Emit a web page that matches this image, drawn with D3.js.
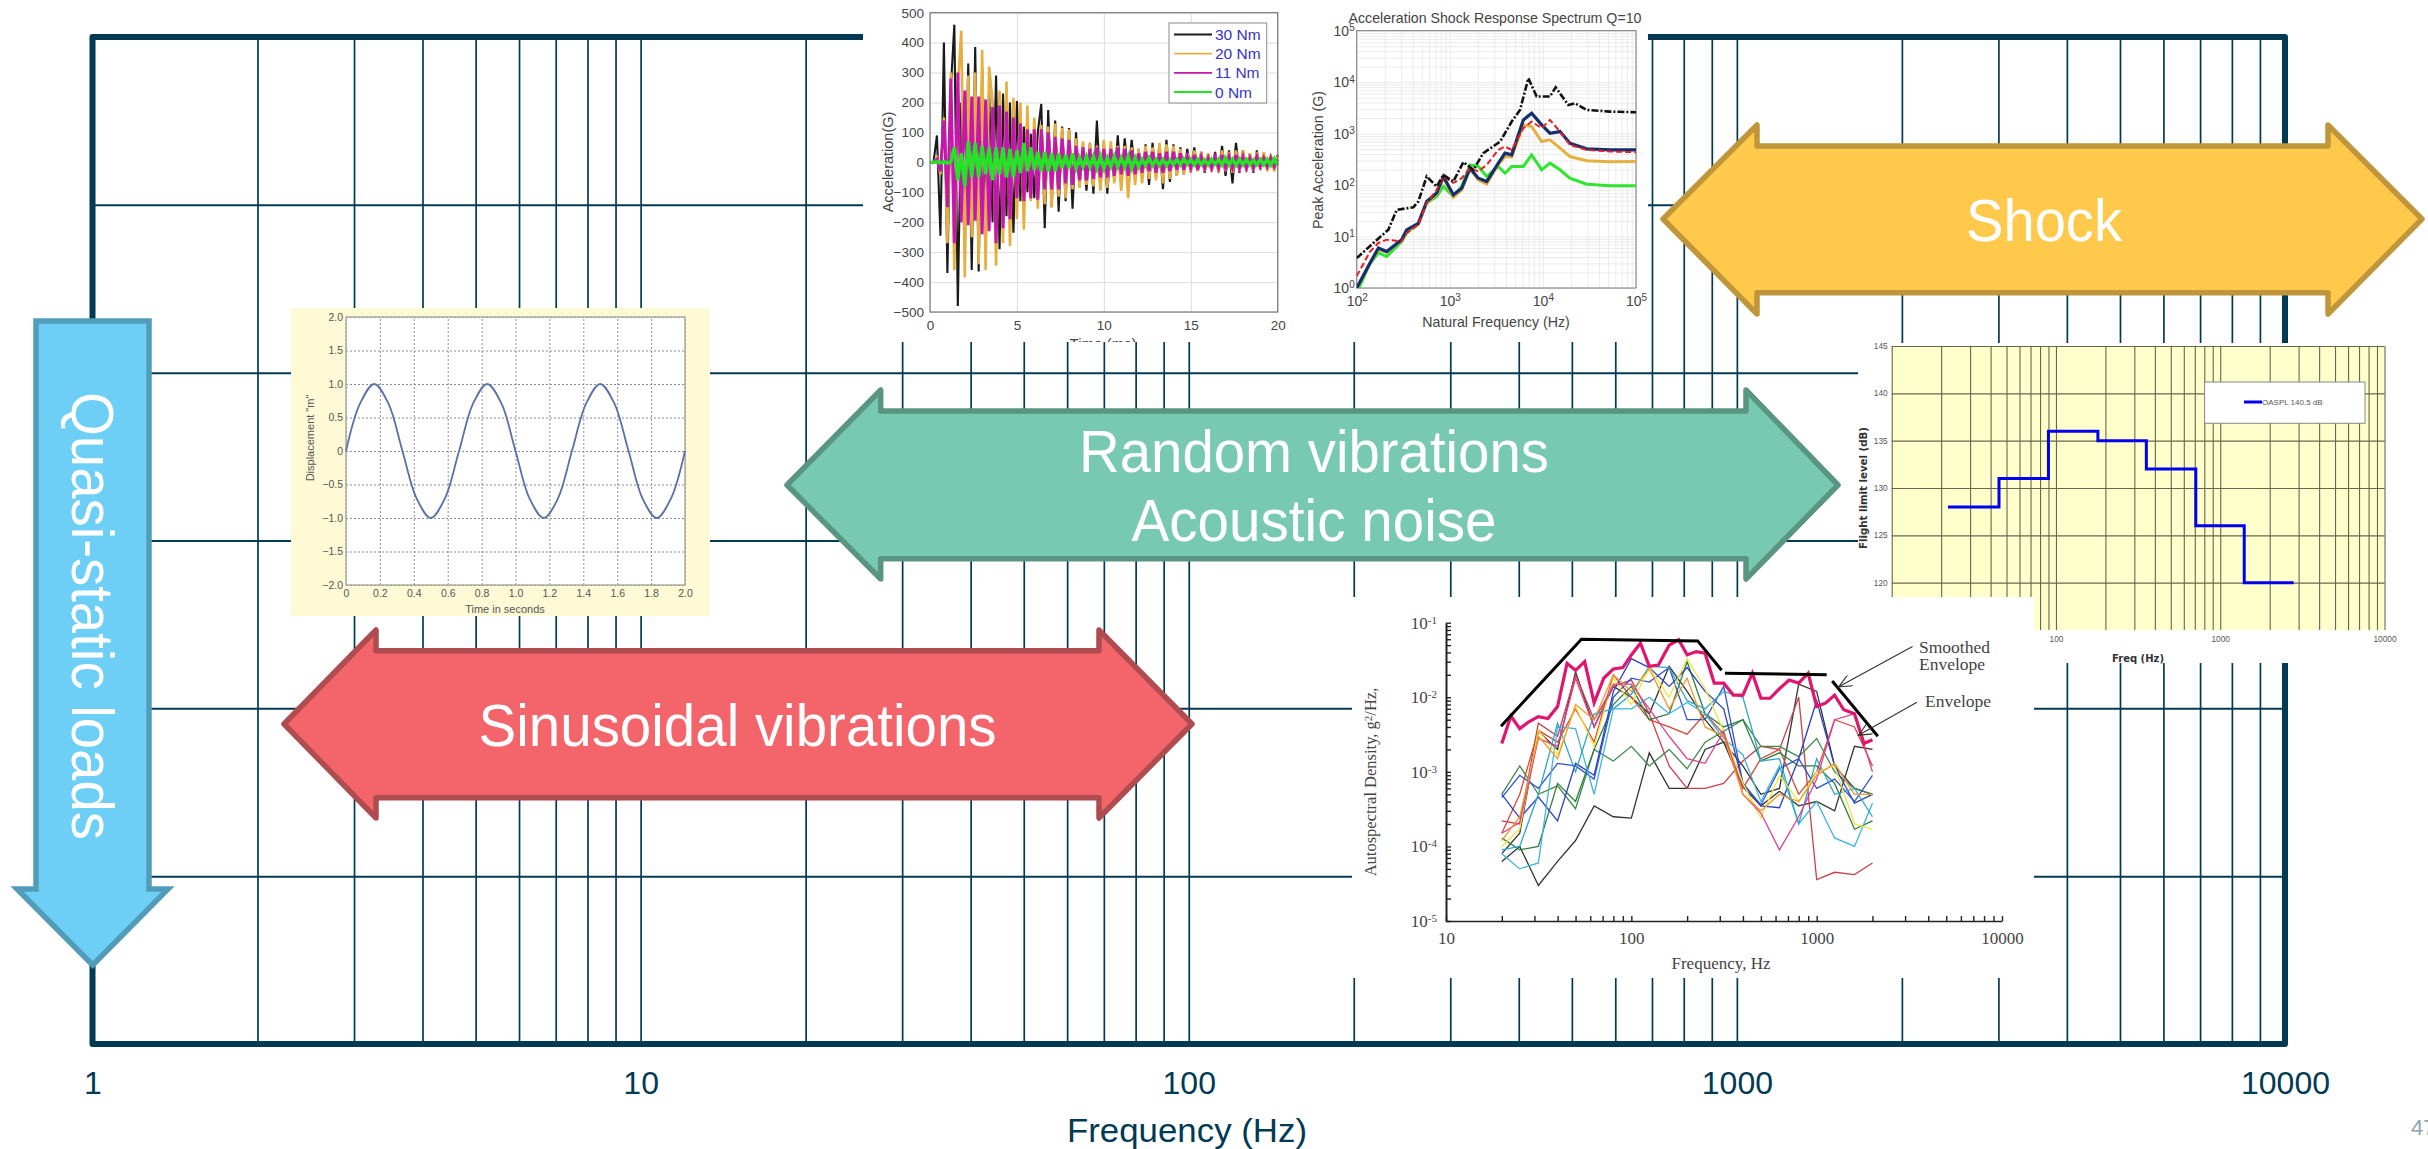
<!DOCTYPE html>
<html>
<head>
<meta charset="utf-8">
<script src="https://cdn.jsdelivr.net/npm/d3@7/dist/d3.min.js"></script>
<style>
  html, body { margin: 0; padding: 0; background: #fff; }
  svg { display: block; }
  text { font-family: "Liberation Sans", Arial, sans-serif; }
</style>
</head>
<body>
<div id="chart"></div>
<script>
// main frequency map
const freqRange = [1, 10000];
const freqLabels = [1, 10, 100, 1000, 10000];
const levelTicks = [0, 1, 2, 3, 4, 5, 6];

// shock time history, one sample every 0.2 ms
const shockNames = ["30 Nm", "20 Nm", "11 Nm", "0 Nm"];
const shockColors = ["#1a1a1a", "#e6b040", "#c616b0", "#1fe620"];
const shock30 = [0,0,90,-245,400,-370,250,460,-480,200,-210,330,-360,385,-365,310,-150,240,-200,290,-290,230,-180,200,-235,205,-130,120,-100,95,-120,100,195,-220,175,-150,140,-165,120,-130,115,-155,100,-80,60,-95,65,-105,140,-90,60,-105,55,-60,90,-70,80,-45,75,-40,45,-50,60,-75,65,-50,60,-90,75,-65,60,-45,50,-40,45,-30,50,-25,35,-35,25,-30,35,-30,55,-45,40,-70,65,-35,40,-30,30,-35,40,-25,25,-25,20,-20,25];
const shock20 = [0,0,15,-40,150,-270,300,-360,250,440,-385,290,-250,300,-340,375,-360,320,200,-345,240,-270,270,-280,215,-190,200,-225,190,-130,150,-155,125,-140,120,-150,130,-115,115,-120,110,-90,80,-85,70,-75,65,-80,55,-95,75,-85,70,-70,55,-95,55,-120,50,-75,45,-70,55,-55,50,-60,65,-70,60,-55,55,-45,45,-40,30,-35,40,-30,35,-30,30,-30,25,-35,40,-30,35,-35,40,-30,40,-30,30,-30,35,-25,35,-30,25,-30,20];
const shock11 = [0,0,10,-30,140,-150,280,-270,300,-200,240,-210,220,-195,220,-240,210,-230,185,-270,190,-220,170,-190,150,-120,130,-130,110,-120,110,-125,110,-90,100,-90,85,-90,80,-70,75,-75,55,-60,50,-60,45,-55,50,-50,45,-50,45,-45,50,-40,45,-45,40,-40,30,-35,35,-30,35,-35,30,-35,35,-30,35,-25,30,-25,20,-20,25,-25,20,-20,15,-20,20,-20,25,-20,20,-20,25,-20,20,-20,15,-20,20,-15,15,-15,15,-15,10];
const shock0 = [0,0,2,-2,3,-3,2,50,-60,30,-80,70,-50,65,-50,55,-40,50,-60,50,-40,50,-50,45,-50,40,-35,65,-30,50,-25,35,-30,35,-30,30,-30,30,-20,25,-20,30,-20,15,-15,20,-15,20,-20,20,-20,15,-15,20,-15,15,-15,20,-20,15,-15,10,-10,15,-10,10,-10,10,-10,8,-8,10,-8,12,-6,10,-8,10,-8,8,-8,10,-6,10,-8,15,-8,10,-10,10,-8,10,-8,8,-8,10,-8,10,-10,12,-10];
const shockSeries = [shock30, shock20, shock11, shock0];
const shockWidths = [2.1, 2.6, 2.9, 3.4];
const shockXTicks = [0, 5, 10, 15, 20];
const shockYTicks = [-500, -400, -300, -200, -100, 0, 100, 200, 300, 400, 500];

// shock response spectrum
const srsEnvFreq = [100,151,219,269,406,459,565,722,853,1091,1400,1790,2290,3470,4625,5675,6980,8570,11900,13700,18750,22100,29500,52500,100000];
const srsEnvG = [3.8,7.5,13.6,33,37,48,147,94,158,117,279,198,417,700,1714,2884,11900,5248,5248,7943,3607,3890,2884,2680,2600];
const srsFreq = [100,139,171,210,304,344,459,565,723,853,1091,1342,1650,2027,2490,3321,3917,4624,6166,7570,9700,11900,15270,19500,29500,52600,100000];
const srsGreen = [0.8,3,4.8,4.1,8,11.7,18,45,60,94,60,94,247,230,147,230,170,230,230,387,198,267,198,136,104,97,97];
const srsOrange = [1,3,5.6,5,8.4,13,17,46,66,140,58,80,205,125,105,250,360,350,1479,1371,702,755,521,359,296,283,287];
const srsNavy = [1,3.05,6,5.1,8.7,13.5,18,48,70,147,65,87,213,136,117,267,417,387,1849,2489,1479,1018,1096,651,506,483,483];
const srsRed = [1.7,5.1,7.5,8.7,8,11.7,17,45,81,147,110,136,213,184,247,483,561,483,1273,1714,1273,1849,1096,604,483,449,436];
const srsExponents = [0, 1, 2, 3, 4, 5];

// sinusoidal displacement
const sineTime = [0,0.083,0.167,0.25,0.333,0.417,0.5,0.583,0.667,0.75,0.833,0.917,1,1.083,1.167,1.25,1.333,1.417,1.5,1.583,1.667,1.75,1.833,1.917,2];
const sineDisp = [0,0.71,1,0.71,0,-0.71,-1,-0.71,0,0.71,1,0.71,0,-0.71,-1,-0.71,0,0.71,1,0.71,0,-0.71,-1,-0.71,0];
const sineXTicks = [0,0.2,0.4,0.6,0.8,1,1.2,1.4,1.6,1.8,2];
const sineYTicks = [-2,-1.5,-1,-0.5,0,0.5,1,1.5,2];

// acoustic flight limit
const acousticFreq = [22,45,90,180,355,710,1400,2800];
const acousticLevel = [128,131,136,135,132,126,120,120];
const acousticYTicks = [120,125,130,135,140,145];
const acousticXLabels = [100,1000,10000];

// random vibration spectra
const psdFreq = [20,25,31.5,40,50,63,80,100,125,160,200,250,315,400,500,630,800,1000,1250,1600,2000];
const psdGrayA = [6.3e-5,1e-4,3e-5,6.3e-5,1.2e-4,3.5e-4,2.5e-4,2.4e-4,1.8e-3,6e-4,6e-4,2e-3,2.5e-3,6.3e-4,3.5e-4,5.5e-4,3.5e-4,4e-4,3e-4,2.2e-3,2e-3];
const psdGrayB = [8e-5,1.5e-4,3.5e-3,2e-3,2.2e-2,4e-3,1.4e-2,1e-2,6e-3,2.6e-2,1.2e-2,5e-3,2.5e-3,1.2e-3,5e-4,6e-4,1.5e-2,1.2e-2,1.2e-3,6e-4,5e-4];
const psdRedA = [2.2e-4,2e-4,4.5e-3,3e-3,2e-2,5e-3,1.4e-2,1.7e-2,6e-3,1.2e-3,6e-4,6e-4,7e-4,1.4e-3,2.2e-3,2e-3,1e-2,3.6e-5,4.5e-5,4.2e-5,6e-5];
const psdRedB = [1.5e-4,5e-4,3.6e-3,2.5e-3,7e-3,2.5e-3,2e-2,1e-2,5e-3,4e-3,3.2e-3,6e-3,3.2e-3,6e-4,1.5e-3,2e-3,5e-4,1e-3,5e-3,4e-3,1.2e-3];
const psdGreenA = [5e-4,1.2e-3,5e-4,6.5e-4,3.2e-4,2e-3,1.4e-3,2.2e-3,1.2e-3,2e-3,1.1e-3,2.5e-3,3.5e-3,5e-3,2.2e-3,2.2e-3,1.6e-3,2.8e-3,1e-3,6e-4,5e-4];
const psdGreenB = [1.3e-4,9e-5,1e-4,7e-4,4e-4,2e-3,8e-3,1.4e-2,5e-3,6e-3,3e-2,6e-3,4e-3,5e-3,1.4e-3,1.8e-3,1.2e-3,1.2e-3,7e-4,1.7e-4,2.2e-4];
const psdBlueA = [5e-4,2.4e-4,4.6e-4,2.2e-4,1.3e-3,9e-4,1.2e-2,3.3e-2,2.5e-2,1.4e-2,2.5e-2,1.2e-2,7e-3,7e-4,3.5e-4,3.3e-4,1.5e-3,9e-3,1.2e-3,3.8e-4,5e-4];
const psdBlueB = [4.5e-4,9e-4,6e-4,1.3e-3,1.2e-3,8e-4,1e-2,1.8e-2,1.6e-2,2.5e-2,5e-3,5e-3,1.4e-2,7e-4,3.6e-4,1.1e-3,1.5e-3,6e-4,8e-4,4e-4,9e-4];
const psdCyanA = [8e-5,5e-5,6e-5,4e-3,3.8e-3,5e-4,7e-3,7e-3,1e-2,6e-3,8.5e-3,6e-3,2.8e-3,1.7e-3,4e-4,1.2e-3,2e-4,4e-4,1.3e-4,1e-4,3.8e-4];
const psdCyanB = [9e-5,1e-4,5e-4,4.5e-3,1e-3,6e-3,7e-3,1.1e-2,2.6e-2,2.5e-2,9e-3,7e-3,1.2e-2,1e-2,1.4e-3,1.5e-3,2e-4,1.5e-3,5e-4,6e-4,2.5e-4];
const psdYellow = [1e-4,1.7e-4,3.6e-3,1.7e-3,7.5e-3,2.2e-3,1.8e-2,8e-3,2.5e-2,1e-2,3.3e-2,1.3e-2,3.5e-3,7e-4,2.4e-4,9e-4,4e-4,1e-3,1.2e-3,2e-4,1.7e-4];
const psdPink = [1.5e-4,2.1e-4,2.8e-3,2.2e-3,1.8e-2,4e-3,1.5e-2,1.5e-2,7e-3,3e-3,1.5e-3,1.3e-3,3.5e-3,5e-4,2.8e-4,9e-5,2.5e-4,8e-4,5e-3,6e-3,1e-3];
const psdOrange = [1.2e-4,2.5e-4,3e-3,1.5e-3,8e-3,5e-3,2e-2,1.2e-2,2.4e-2,7e-3,1.8e-2,4e-3,3e-3,5e-4,3e-4,5e-4,4e-4,9e-4,1.3e-3,5e-4,5e-4];
const psdThin = [psdGrayA, psdGrayB, psdRedA, psdRedB, psdGreenA, psdGreenB, psdBlueA, psdBlueB, psdCyanA, psdCyanB, psdYellow, psdPink, psdOrange];
const psdThinColors = ["#333","#333","#c9404a","#d9483c","#3d8b4a","#2f7d3f","#2b3fc4","#3050d0","#3fb4dc","#2ca8c8","#f2e53a","#e0408f","#ee9a2e"];
const psdSmoothFreq = [20,22.4,25,28,31.5,35.5,40,45,50,56,63,71,80,90,100,112,125,140,160,180,200,224,250,280,315,355,400,450,500,560,630,710,800,900,1000,1120,1250,1400,1600,1800,2000];
const psdSmooth = [2.4e-3,5.6e-3,3.8e-3,4.7e-3,5.5e-3,5.2e-3,7.5e-3,2.85e-2,2.3e-2,3e-2,8.4e-3,1.8e-2,2.4e-2,2.5e-2,3.7e-2,5.3e-2,2.6e-2,2.7e-2,5e-2,5.9e-2,3.7e-2,4.1e-2,3.9e-2,1.55e-2,1.55e-2,1.07e-2,1.07e-2,2.1e-2,9.7e-3,9.7e-3,1.3e-2,1.7e-2,1.55e-2,2.1e-2,7.5e-3,8.4e-3,1.07e-2,6.8e-3,6e-3,2.4e-3,2.7e-3];
const psdEnvelopeA = [[19.8,4.1e-3],[53.8,6e-2],[228,5.7e-2],[307,2.3e-2]];
const psdEnvelopeB = [[320,2.1e-2],[1133,2e-2]];
const psdEnvelopeC = [[1213,1.65e-2],[2138,3e-3]];
const psdPointerA = [[3290,4.8e-2],[1315,1.38e-2]];
const psdPointerB = [[3475,8.6e-3],[1680,3.1e-3]];
const psdXLabels = [10,100,1000,10000];
const psdYExponents = [-5,-4,-3,-2,-1];

const width = 2428, height = 1149;
const navy = "#023a53";

const svg = d3.select("#chart").append("svg")
  .attr("width", width)
  .attr("height", height);

svg.append("rect").attr("width", width).attr("height", height).attr("fill", "#fff");

const defs = svg.append("defs");
defs.append("marker").attr("id", "openHead")
  .attr("viewBox", "0 0 12 10").attr("refX", 11).attr("refY", 5)
  .attr("markerWidth", 16).attr("markerHeight", 12).attr("markerUnits", "userSpaceOnUse")
  .attr("orient", "auto")
  .append("path").attr("d", "M0,0L11,5L0,10").attr("fill", "none").attr("stroke", "#333").attr("stroke-width", 1);

// ---- main log grid
const mainX = d3.scaleLog().domain(freqRange).range([92.5, 2285]);
const mainY = d3.scaleLinear().domain([0, 6]).range([1044, 37]);

const mainXAxis = d3.axisBottom(mainX)
  .tickSize(-(1044 - 37))
  .tickSizeOuter(0)
  .tickPadding(27)
  .tickFormat(d => freqLabels.includes(d) ? d : "");
const mainXG = svg.append("g").attr("transform", "translate(0,1044)").call(mainXAxis);
mainXG.select(".domain").remove();
mainXG.selectAll("line").attr("stroke", navy).attr("stroke-width", 1.7);
mainXG.selectAll("text").attr("fill", navy).attr("font-size", 32);

const mainYG = svg.append("g").attr("transform", "translate(92.5,0)")
  .call(d3.axisLeft(mainY).tickValues(levelTicks).tickSize(-(2285 - 92.5)).tickFormat(""));
mainYG.select(".domain").remove();
mainYG.selectAll("line").attr("stroke", navy).attr("stroke-width", 2);

svg.append("rect")
  .attr("x", 92.5).attr("y", 37)
  .attr("width", 2285 - 92.5).attr("height", 1044 - 37)
  .attr("fill", "none").attr("stroke", navy).attr("stroke-width", 6).attr("stroke-linejoin", "round");

svg.append("text").attr("x", 1187).attr("y", 1142).attr("text-anchor", "middle")
  .attr("fill", navy).attr("font-size", 34)
  .attr("textLength", 240).attr("lengthAdjust", "spacingAndGlyphs").text("Frequency (Hz)");
svg.append("text").attr("x", 2411).attr("y", 1135)
  .attr("fill", "#8da6b6").attr("font-size", 22).text("47");

// ---- helpers for the pasted plots
const isDecade = d => Math.abs(Math.log10(d) - Math.round(Math.log10(d))) < 1e-6;
function tidy(g, color, size, family) {
  g.selectAll("text").attr("fill", color).attr("font-size", size);
  if (family) g.selectAll("text").style("font-family", family);
}
function powerLabel(sel, exponent, size) {
  sel.each(function (d) {
    const t = d3.select(this).text(null);
    t.append("tspan").text("10");
    t.append("tspan").attr("dy", "-0.45em").attr("font-size", size).text(exponent(d));
  });
}

// ---- time history and SRS share one white sheet
const topClip = defs.append("clipPath").attr("id", "topClip");
topClip.append("rect").attr("x", 863).attr("y", 0).attr("width", 785).attr("height", 342);
const sheet = svg.append("g").attr("clip-path", "url(#topClip)");
sheet.append("rect").attr("x", 863).attr("y", 0).attr("width", 785).attr("height", 342).attr("fill", "#fff");

const timeX = d3.scaleLinear().domain([0, 20]).range([930, 1277.7]);
const accelY = d3.scaleLinear().domain([-500, 500]).range([312, 12.7]);
const sampleTime = d3.range(0, 20.1, 0.2);

const timeG = sheet.append("g").attr("transform", "translate(0,312)")
  .call(d3.axisBottom(timeX).tickValues(shockXTicks).tickSize(-(312 - 12.7)).tickPadding(8));
timeG.select(".domain").remove();
timeG.selectAll("line").attr("stroke", "#dcdcdc").attr("stroke-width", 1);
tidy(timeG, "#444", 13.5);

const accelG = sheet.append("g").attr("transform", "translate(930,0)")
  .call(d3.axisLeft(accelY).tickValues(shockYTicks).tickSize(-(1277.7 - 930)).tickPadding(6));
accelG.select(".domain").remove();
accelG.selectAll("line").attr("stroke", "#dcdcdc").attr("stroke-width", 1);
tidy(accelG, "#444", 13.5);

const shockLine = d3.line().x((d, i) => timeX(sampleTime[i])).y(d => accelY(d));
sheet.selectAll(".shock").data(shockSeries).join("path")
  .attr("class", "shock")
  .attr("d", shockLine)
  .attr("fill", "none")
  .attr("stroke", (d, i) => shockColors[i])
  .attr("stroke-width", (d, i) => shockWidths[i]);

sheet.append("rect").attr("x", 930).attr("y", 12.7).attr("width", 1277.7 - 930).attr("height", 312 - 12.7)
  .attr("fill", "none").attr("stroke", "#7a7a7a").attr("stroke-width", 1.2);

sheet.append("text").attr("x", 1103).attr("y", 349).attr("text-anchor", "middle")
  .attr("fill", "#444").attr("font-size", 15).text("Time (ms)");
sheet.append("text").attr("transform", "translate(893,162) rotate(-90)").attr("text-anchor", "middle")
  .attr("fill", "#444").attr("font-size", 14.5).text("Acceleration(G)");

const legendY = d3.scalePoint().domain(shockNames).range([34.5, 92]);
sheet.append("rect").attr("x", 1169).attr("y", 23).attr("width", 97.7).attr("height", 80)
  .attr("fill", "#fff").attr("stroke", "#8a8a8a").attr("stroke-width", 1);
shockNames.forEach((name, i) => {
  sheet.append("line").attr("x1", 1174).attr("x2", 1212).attr("y1", legendY(name)).attr("y2", legendY(name))
    .attr("stroke", shockColors[i]).attr("stroke-width", 1.8);
  sheet.append("text").attr("x", 1215).attr("y", legendY(name) + 5.5)
    .attr("fill", "#3434c4").attr("font-size", 15.5).text(name);
});

const srsX = d3.scaleLog().domain([1e2, 1e5]).range([1356.7, 1636]);
const srsY = d3.scaleLog().domain([1, 1e5]).range([288, 30.7]);
const srsClip = defs.append("clipPath").attr("id", "srsClip");
srsClip.append("rect").attr("x", 1356.7).attr("y", 30.7).attr("width", 279.3).attr("height", 257.3);

const srsXG = sheet.append("g").attr("transform", "translate(0,288)")
  .call(d3.axisBottom(srsX).tickSize(-(288 - 30.7)).tickPadding(8).tickFormat(d => isDecade(d) ? "10" : ""));
srsXG.select(".domain").remove();
srsXG.selectAll("line").attr("stroke", "#e4e4e4").attr("stroke-width", 0.7);
tidy(srsXG, "#444", 14);
srsXG.selectAll("text").filter(isDecade)
  .call(powerLabel, d => Math.round(Math.log10(d)), 10);

const srsYG = sheet.append("g").attr("transform", "translate(1356.7,0)")
  .call(d3.axisLeft(srsY).tickSize(-(1636 - 1356.7)).tickPadding(2).tickFormat(d => isDecade(d) && srsExponents.includes(Math.round(Math.log10(d))) ? "10" : ""));
srsYG.select(".domain").remove();
srsYG.selectAll("line").attr("stroke", "#e4e4e4").attr("stroke-width", 0.7);
tidy(srsYG, "#444", 14);
srsYG.selectAll("text").filter(isDecade)
  .call(powerLabel, d => Math.round(Math.log10(d)), 10);

sheet.append("rect").attr("x", 1356.7).attr("y", 30.7).attr("width", 279.3).attr("height", 257.3)
  .attr("fill", "none").attr("stroke", "#777").attr("stroke-width", 1);

const srsPlot = sheet.append("g").attr("clip-path", "url(#srsClip)");
const srsLine = d3.line().x(d => srsX(d[0])).y(d => srsY(d[1]));
const srsPairs = ys => ys.map((g, i) => [srsFreq[i], g]);
srsPlot.append("path").attr("d", srsLine(srsPairs(srsGreen))).attr("fill", "none").attr("stroke", "#2de62d").attr("stroke-width", 3);
srsPlot.append("path").attr("d", srsLine(srsPairs(srsOrange))).attr("fill", "none").attr("stroke", "#e6b040").attr("stroke-width", 3);
srsPlot.append("path").attr("d", srsLine(srsPairs(srsNavy))).attr("fill", "none").attr("stroke", "#12306e").attr("stroke-width", 3.2);
srsPlot.append("path").attr("d", srsLine(srsPairs(srsRed))).attr("fill", "none").attr("stroke", "#ea1c24").attr("stroke-width", 2).attr("stroke-dasharray", "6,3");
srsPlot.append("path").attr("d", srsLine(srsEnvFreq.map((f, i) => [f, srsEnvG[i]])))
  .attr("fill", "none").attr("stroke", "#111").attr("stroke-width", 2.6).attr("stroke-dasharray", "7,2,2,2");

sheet.append("text").attr("x", 1495).attr("y", 23).attr("text-anchor", "middle")
  .attr("fill", "#444").attr("font-size", 14.2).text("Acceleration Shock Response Spectrum Q=10");
sheet.append("text").attr("x", 1496).attr("y", 327).attr("text-anchor", "middle")
  .attr("fill", "#444").attr("font-size", 14.2).text("Natural Frequency (Hz)");
sheet.append("text").attr("transform", "translate(1323,160) rotate(-90)").attr("text-anchor", "middle")
  .attr("fill", "#444").attr("font-size", 14.2).text("Peak Acceleration (G)");

// ---- sine sheet
const sine = svg.append("g");
sine.append("rect").attr("x", 291).attr("y", 308).attr("width", 419).attr("height", 308).attr("fill", "#fffad6");
sine.append("rect").attr("x", 346).attr("y", 317).attr("width", 339).attr("height", 268).attr("fill", "#fff");

const sineX = d3.scaleLinear().domain([0, 2]).range([346, 685]);
const sineY = d3.scaleLinear().domain([-2, 2]).range([585, 317]);

const sineXG = sine.append("g").attr("transform", "translate(0,585)")
  .call(d3.axisBottom(sineX).tickValues(sineXTicks).tickSize(-268).tickPadding(5).tickFormat(d => d === 0 ? "0" : d3.format(".1f")(d)));
sineXG.select(".domain").remove();
sineXG.selectAll("line").attr("stroke", "#8b8b98").attr("stroke-width", 1).attr("stroke-dasharray", "2,2");
tidy(sineXG, "#555", 10.5);

const sineYG = sine.append("g").attr("transform", "translate(346,0)")
  .call(d3.axisLeft(sineY).tickValues(sineYTicks).tickSize(-339).tickPadding(3).tickFormat(d => d === 0 ? "0" : (d < 0 ? "\u2212" : "") + d3.format(".1f")(Math.abs(d))));
sineYG.select(".domain").remove();
sineYG.selectAll("line").attr("stroke", "#8b8b98").attr("stroke-width", 1).attr("stroke-dasharray", "2,2");
tidy(sineYG, "#555", 10.5);

sine.append("rect").attr("x", 346).attr("y", 317).attr("width", 339).attr("height", 268)
  .attr("fill", "none").attr("stroke", "#aaa89c").attr("stroke-width", 1.4);

sine.append("path")
  .attr("d", d3.line().x((d, i) => sineX(sineTime[i])).y(d => sineY(d)).curve(d3.curveCatmullRom)(sineDisp))
  .attr("fill", "none").attr("stroke", "#5b70a8").attr("stroke-width", 1.8);

sine.append("text").attr("x", 505).attr("y", 613).attr("text-anchor", "middle")
  .attr("fill", "#555").attr("font-size", 11).text("Time in seconds");
sine.append("text").attr("transform", "translate(314,438) rotate(-90)").attr("text-anchor", "middle")
  .attr("fill", "#555").attr("font-size", 11).text("Displacement \"m\"");

// ---- acoustic sheet
const acoustic = svg.append("g");
acoustic.append("rect").attr("x", 1858).attr("y", 343).attr("width", 542).attr("height", 320).attr("fill", "#fff");
acoustic.append("rect").attr("x", 1891.7).attr("y", 346).attr("width", 492.8).attr("height", 284).attr("fill", "#ffffcc");

const acoX = d3.scaleLog().domain([10, 10000]).range([1891.7, 2384.5]);
const acoY = d3.scaleLinear().domain([115, 145]).range([630, 346]);

const acoXG = acoustic.append("g").attr("transform", "translate(0,630)")
  .call(d3.axisBottom(acoX).tickSize(-284).tickPadding(6).tickFormat(d => acousticXLabels.includes(d) ? d : ""));
acoXG.select(".domain").remove();
acoXG.selectAll("line").attr("stroke", "#67674f").attr("stroke-width", 1.1);
tidy(acoXG, "#555", 8.3);

const acoYG = acoustic.append("g").attr("transform", "translate(1891.7,0)")
  .call(d3.axisLeft(acoY).tickValues(acousticYTicks).tickSize(-492.8).tickPadding(4));
acoYG.select(".domain").remove();
acoYG.selectAll("line").attr("stroke", "#67674f").attr("stroke-width", 1.1);
tidy(acoYG, "#555", 8.3);

acoustic.append("path")
  .attr("d", d3.line().x((d, i) => acoX(acousticFreq[i])).y(d => acoY(d)).curve(d3.curveStepAfter)(acousticLevel))
  .attr("fill", "none").attr("stroke", "#0000f0").attr("stroke-width", 3);

acoustic.append("rect").attr("x", 2204.6).attr("y", 382).attr("width", 160.4).attr("height", 41.3)
  .attr("fill", "#fff").attr("stroke", "#888").attr("stroke-width", 1);
acoustic.append("line").attr("x1", 2244).attr("x2", 2262).attr("y1", 402).attr("y2", 402)
  .attr("stroke", "#0000f0").attr("stroke-width", 3);
acoustic.append("text").attr("x", 2262).attr("y", 405).attr("fill", "#555").attr("font-size", 8).text("OASPL 140.5 dB");
acoustic.append("text").attr("x", 2138).attr("y", 662).attr("text-anchor", "middle")
  .attr("fill", "#333").attr("font-size", 10.5).attr("font-weight", "bold")
  .attr("textLength", 52).attr("lengthAdjust", "spacingAndGlyphs")
  .style("font-family", "'DejaVu Sans'").text("Freq (Hz)");
acoustic.append("text").attr("transform", "translate(1867,488) rotate(-90)").attr("text-anchor", "middle")
  .attr("fill", "#333").attr("font-size", 10.5).attr("font-weight", "bold")
  .attr("textLength", 122).attr("lengthAdjust", "spacingAndGlyphs")
  .style("font-family", "'DejaVu Sans'").text("Flight limit level (dB)");

// ---- random vibration sheet
const psd = svg.append("g");
const serif = "'Liberation Serif', serif";
psd.append("rect").attr("x", 1352).attr("y", 597).attr("width", 682).attr("height", 381).attr("fill", "#fff");

const psdX = d3.scaleLog().domain([10, 10000]).range([1446, 2002]);
const psdY = d3.scaleLog().domain([1e-5, 1e-1]).range([921, 622.7]);

const psdXG = psd.append("g").attr("transform", "translate(0,921)")
  .call(d3.axisBottom(psdX).tickSize(-5).tickSizeOuter(0).tickPadding(11).tickFormat(d => psdXLabels.includes(d) ? d : ""));
psdXG.selectAll("line").attr("stroke", "#222").attr("stroke-width", 1.4);
psdXG.select(".domain").attr("stroke", "#222").attr("stroke-width", 1.7);
tidy(psdXG, "#444", 17, serif);

const psdYG = psd.append("g").attr("transform", "translate(1446,0)")
  .call(d3.axisLeft(psdY).tickSize(-5).tickSizeOuter(0).tickPadding(9).tickFormat(d => isDecade(d) && psdYExponents.includes(Math.round(Math.log10(d))) ? "10" : ""));
psdYG.selectAll("line").attr("stroke", "#222").attr("stroke-width", 1.4);
psdYG.select(".domain").attr("stroke", "#222").attr("stroke-width", 2);
tidy(psdYG, "#444", 17, serif);
psdYG.selectAll("text").filter(isDecade)
  .call(powerLabel, d => Math.round(Math.log10(d)), 11);

const psdLine = d3.line().x(d => psdX(d[0])).y(d => psdY(d[1]));
psd.selectAll(".thin").data(psdThin).join("path")
  .attr("class", "thin")
  .attr("d", ys => psdLine(ys.map((v, i) => [psdFreq[i], v])))
  .attr("fill", "none")
  .attr("stroke", (d, i) => psdThinColors[i])
  .attr("stroke-width", 1.3);
psd.append("path").attr("d", psdLine(psdSmooth.map((v, i) => [psdSmoothFreq[i], v])))
  .attr("fill", "none").attr("stroke", "#e1146e").attr("stroke-width", 3.2);
[psdEnvelopeA, psdEnvelopeB, psdEnvelopeC].forEach(seg => {
  psd.append("path").attr("d", psdLine(seg)).attr("fill", "none").attr("stroke", "#000").attr("stroke-width", 3);
});
[psdPointerA, psdPointerB].forEach(seg => {
  psd.append("path").attr("d", psdLine(seg)).attr("fill", "none").attr("stroke", "#333").attr("stroke-width", 1.1)
    .attr("marker-end", "url(#openHead)");
});
[["Smoothed", 1919, 653], ["Envelope", 1919, 670], ["Envelope", 1925, 707]].forEach(t => {
  psd.append("text").attr("x", t[1]).attr("y", t[2]).attr("fill", "#444").attr("font-size", 17.5)
    .style("font-family", serif).text(t[0]);
});
psd.append("text").attr("x", 1721).attr("y", 969).attr("text-anchor", "middle")
  .attr("fill", "#444").attr("font-size", 17).style("font-family", serif).text("Frequency, Hz");
const psdYLabel = psd.append("text").attr("transform", "translate(1376,782) rotate(-90)").attr("text-anchor", "middle")
  .attr("fill", "#444").attr("font-size", 16.5).style("font-family", serif);
psdYLabel.append("tspan").text("Autospectral Density, g");
psdYLabel.append("tspan").attr("dy", "-0.4em").attr("font-size", 11).text("2");
psdYLabel.append("tspan").attr("dy", "0.27em").text("/Hz,");

// ---- band arrows
const outline = d3.line();
const bandFont = 60;
function bandArrow(a) {
  const pts = [
    [a.x0, a.y], [a.x0b, a.headTop], [a.x0b, a.bodyTop], [a.x1b, a.bodyTop], [a.x1b, a.headTop],
    [a.x1, a.y], [a.x1b, a.headBot], [a.x1b, a.bodyBot], [a.x0b, a.bodyBot], [a.x0b, a.headBot]
  ];
  svg.append("path").attr("d", outline(pts) + "Z")
    .attr("fill", a.fill).attr("stroke", a.stroke).attr("stroke-width", 5.5).attr("stroke-linejoin", "round");
  a.lines.forEach(l => {
    svg.append("text").attr("x", a.tx).attr("y", l[1]).attr("text-anchor", "middle")
      .attr("fill", "#fff").attr("font-size", bandFont)
      .attr("textLength", l[2]).attr("lengthAdjust", "spacingAndGlyphs").text(l[0]);
  });
}

bandArrow({ x0: 1663, x1: 2422, y: 219, x0b: 1757, x1b: 2328, headTop: 125, headBot: 314, bodyTop: 146, bodyBot: 292.7,
  fill: "#ffca4c", stroke: "#bf9639", tx: 2044, lines: [["Shock", 241, 156]] });
bandArrow({ x0: 787, x1: 1838, y: 485, x0b: 880.7, x1b: 1746, headTop: 390, headBot: 579, bodyTop: 411, bodyBot: 558.7,
  fill: "#77c9af", stroke: "#5a9581", tx: 1314, lines: [["Random vibrations", 472, 470], ["Acoustic noise", 541, 365]] });
bandArrow({ x0: 284, x1: 1192, y: 724, x0b: 376, x1b: 1099, headTop: 630, headBot: 818, bodyTop: 650.7, bodyBot: 797.7,
  fill: "#f3656a", stroke: "#af4c50", tx: 737.6, lines: [["Sinusoidal vibrations", 745.7, 518]] });

// quasi-static arrow points down
svg.append("path")
  .attr("d", outline([[36, 321], [149, 321], [149, 889], [168, 889], [92.7, 965], [17, 889], [36, 889]]) + "Z")
  .attr("fill", "#6dcff6").attr("stroke", "#519db9").attr("stroke-width", 5.5).attr("stroke-linejoin", "miter");
svg.append("text").attr("transform", "translate(72,616) rotate(90)").attr("text-anchor", "middle")
  .attr("fill", "#fff").attr("font-size", bandFont)
  .attr("textLength", 448).attr("lengthAdjust", "spacingAndGlyphs").text("Quasi-static loads");
</script>
</body>
</html>
